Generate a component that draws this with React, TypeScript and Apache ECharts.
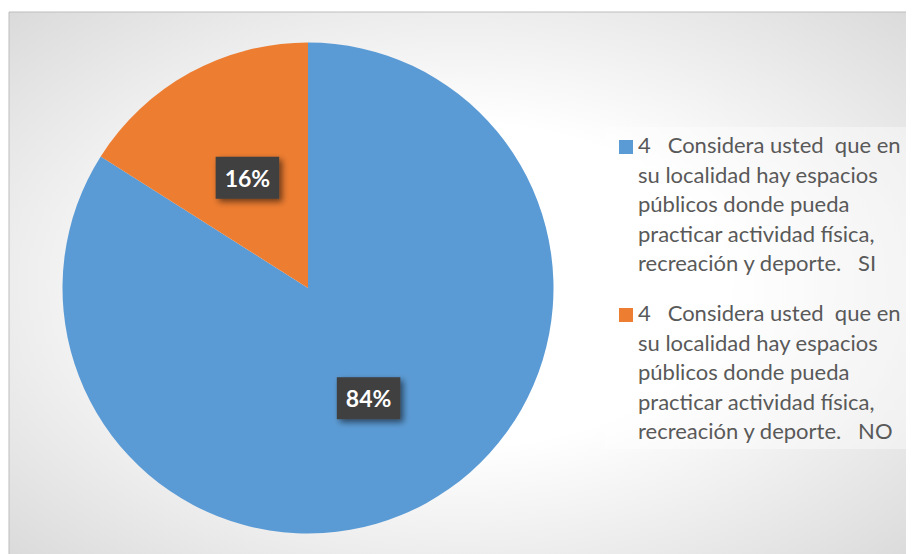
import React, { useEffect, useRef } from "react";
import * as echarts from "echarts";

const categories: string[] = [
  "4   Considera usted  que en\nsu localidad hay espacios\npúblicos donde pueda\npracticar actividad física,\nrecreación y deporte.   SI",
  "4   Considera usted  que en\nsu localidad hay espacios\npúblicos donde pueda\npracticar actividad física,\nrecreación y deporte.   NO",
];
const values: number[] = [84, 16];
const colors: string[] = ["#5B9BD5", "#ED7D31"];

const legendTops = [122, 290];

export default function App() {
  const ref = useRef<HTMLDivElement>(null);
  useEffect(() => {
    if (!ref.current) return;
    const chart = echarts.init(ref.current, undefined, { renderer: "svg" });
    const legendGraphics: any[] = [];
    categories.forEach((c, i) => {
      legendGraphics.push({
        type: "rect",
        silent: true,
        shape: { x: 611, y: legendTops[i] + 10, width: 14, height: 14 },
        style: { fill: colors[i] },
        z: 10,
      });
      legendGraphics.push({
        type: "text",
        silent: true,
        x: 630,
        y: legendTops[i],
        style: {
          text: c,
          fill: "#595959",
          font: "22px Lato",
          lineHeight: 29.5,
          verticalAlign: "top",
          align: "left",
        },
        z: 10,
      });
    });
    chart.setOption({
      animation: false,
      graphic: [
        {
          type: "rect",
          silent: true,
          z: -10,
          shape: { x: 1, y: 4, width: 906, height: 546 },
          style: {
            fill: {
              type: "radial",
              x: 0.5,
              y: 0.5,
              r: 0.98,
              colorStops: [
                { offset: 0, color: "#ffffff" },
                { offset: 0.3, color: "#ffffff" },
                { offset: 1, color: "#c2c2c2" },
              ],
            },
            stroke: "#bdbdbd",
            lineWidth: 1,
          },
        },
        {
          type: "rect",
          silent: true,
          z: 5,
          shape: { x: 597, y: 119, width: 307, height: 322 },
          style: { fill: "rgba(255,255,255,0.4)" },
        },
        ...legendGraphics,
      ],
      series: [
        {
          type: "pie",
          center: [300, 280],
          radius: 245.5,
          startAngle: 90,
          clockwise: true,
          silent: true,
          percentPrecision: 0,
          data: categories.map((c, i) => ({
            name: c,
            value: values[i],
            itemStyle: { color: colors[i] },
          })),
          label: {
            show: true,
            position: "inside",
            formatter: "{d}%",
            color: "#ffffff",
            fontFamily: "Lato",
            fontWeight: "bold",
            fontSize: 23,
            lineHeight: 26,
            backgroundColor: "#3f3f3f",
            padding: [8, 9, 8, 9],
            shadowColor: "rgba(0,0,0,0.55)",
            shadowBlur: 6,
            shadowOffsetX: 3,
            shadowOffsetY: 3,
          },
          labelLine: { show: false },
          emphasis: { disabled: true },
        },
      ],
    });
    return () => chart.dispose();
  }, []);
  return <div ref={ref} style={{ width: 906, height: 546 }} />;
}
